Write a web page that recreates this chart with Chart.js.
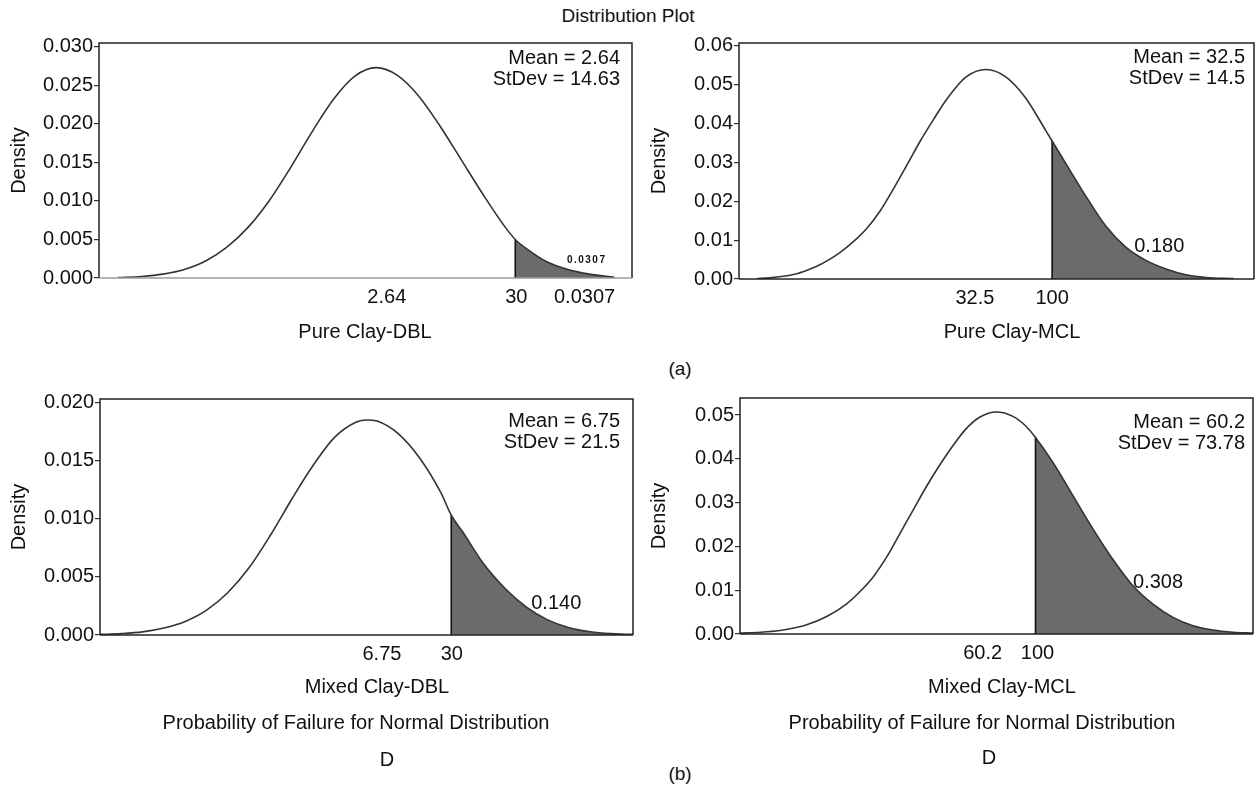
<!DOCTYPE html>
<html><head><meta charset="utf-8">
<script src="https://cdn.jsdelivr.net/npm/chart.js@4.4.0/dist/chart.umd.min.js"></script>
<style>
html,body{margin:0;padding:0;background:#fff;}
#wrap{position:relative;width:1256px;height:788px;overflow:hidden;font-family:"Liberation Sans",Arial,sans-serif;color:#111;}
canvas{position:absolute;}
.lbl{position:absolute;transform:translate(-50%,-50%);white-space:nowrap;line-height:1;}
</style></head>
<body><div id="wrap">
<div class="lbl" style="left:628px;top:15px;font-size:19px">Distribution Plot</div>
<div class="lbl" style="left:680px;top:368px;font-size:19px">(a)</div>
<div class="lbl" style="left:680px;top:773px;font-size:19px">(b)</div>
</div>
<script>
// ---------- data (x in relative plot units 0-100) ----------
const pureDblX = [3.6,8,12,16,20,24,28,32,36,40,44,48,52,56,60,64,68,72,76,78.1,80,84,88,92,96.7];
const pureDblY = [0.00005,0.0002,0.0005,0.0011,0.0022,0.0040,0.0066,0.0101,0.0144,0.0190,0.0232,0.0262,0.0273,0.0263,0.0236,0.0197,0.0153,0.0109,0.0068,0.0050,0.0039,0.0021,0.0011,0.0005,0.0001];

const pureMclX = [3.5,6,8.6,11,13.1,15,17,19.6,22.2,24.8,27.4,30,32.6,35.2,37.8,40.2,44.1,48,51.8,55.7,59.6,60.8,63.5,67.4,71.3,75.1,79,82.9,86.8,90.7,96];
const pureMclY = [0.0001,0.0003,0.0007,0.0013,0.0022,0.0032,0.0046,0.0068,0.0096,0.0130,0.0175,0.0232,0.0293,0.0355,0.0411,0.0460,0.0520,0.0539,0.0520,0.0465,0.0381,0.0355,0.0296,0.0212,0.0135,0.0082,0.0048,0.0026,0.0011,0.0004,0.0001];

const mixedDblX = [0,4,8,12,16,20,24,28,32,36,40,44,48,50.1,52,56,60,64,65.9,68,72,76,80,84,88,92,96,100];
const mixedDblY = [0.00005,0.00012,0.00027,0.0006,0.00117,0.00214,0.00366,0.0058,0.0086,0.0117,0.0146,0.0170,0.0183,0.0185,0.0184,0.0173,0.0152,0.0122,0.0103,0.0089,0.0061,0.0040,0.0024,0.0013,0.00063,0.00028,0.00012,0.00005];

const mixedMclX = [0,4,7.8,11,13,16.9,20.8,23.4,26,28.6,31.2,33.8,36.4,39,41.5,44.1,46.7,50,53.2,55.8,57.6,61,64.9,68.8,72.7,76.6,80.5,84.4,88.3,92.2,96.1,100];
const mixedMclY = [0.0002,0.0004,0.0008,0.0015,0.0021,0.0040,0.0069,0.0097,0.0131,0.0176,0.0230,0.0284,0.0338,0.0387,0.0430,0.0469,0.0495,0.0507,0.0497,0.0474,0.0449,0.0392,0.0316,0.0240,0.0170,0.0110,0.0068,0.0038,0.0019,0.0009,0.0004,0.0002];

const thresholds = [78.1, 60.8, 65.9, 57.6];

const yTicksPureDbl = [0,0.005,0.010,0.015,0.020,0.025,0.030];
const yLabelsPureDbl = ['0.000','0.005','0.010','0.015','0.020','0.025','0.030'];
const yTicksPureMcl = [0,0.01,0.02,0.03,0.04,0.05,0.06];
const yLabelsPureMcl = ['0.00','0.01','0.02','0.03','0.04','0.05','0.06'];
const yTicksMixedDbl = [0,0.005,0.010,0.015,0.020];
const yLabelsMixedDbl = ['0.000','0.005','0.010','0.015','0.020'];
const yTicksMixedMcl = [0,0.01,0.02,0.03,0.04,0.05];
const yLabelsMixedMcl = ['0.00','0.01','0.02','0.03','0.04','0.05'];

const xTickPosPureDbl = [54.0,78.3,91.1];   const xLabelsPureDbl = ['2.64','30','0.0307'];
const xTickPosPureMcl = [45.8,60.8];        const xLabelsPureMcl = ['32.5','100'];
const xTickPosMixedDbl = [52.9,66.0];       const xLabelsMixedDbl = ['6.75','30'];
const xTickPosMixedMcl = [47.3,58.0];       const xLabelsMixedMcl = ['60.2','100'];

const yMax = [0.0305, 0.0607, 0.0203, 0.0539];

const statTexts = [['Mean = 2.64','StDev = 14.63'],['Mean = 32.5','StDev = 14.5'],['Mean = 6.75','StDev = 21.5'],['Mean = 60.2','StDev = 73.78']];
const areaLabels = ['0.0307','0.180','0.140','0.308'];
const areaLabelAt = [[91.5,0.0023],[81.6,0.0084],[85.6,0.00267],[81.5,0.01175]];
const xTitles = ['Pure Clay-DBL','Pure Clay-MCL','Mixed Clay-DBL','Mixed Clay-MCL'];
const footTexts = ['Probability of Failure for Normal Distribution','D'];

// ---------- layout (page pixels) ----------
const FONT = "'Liberation Sans', Arial, sans-serif";
const layout = [
  {canvas:[0,30,640,320],   area:[99,41,632,278],   xTitle:[365,332],  statRight:620,  statY:[58,79],   foot:null, bottomColor:'#9a9a9a'},
  {canvas:[640,30,616,320], area:[739,41,1254,279], xTitle:[1012,332], statRight:1245, statY:[57,78],   foot:null, bottomColor:'#222'},
  {canvas:[0,380,640,408],  area:[100,399,633,635], xTitle:[377,687],  statRight:620,  statY:[421,442], foot:[[356,723],[387,760]], bottomColor:'#222'},
  {canvas:[640,380,616,408],area:[740,398,1253,634],xTitle:[1002,687], statRight:1245, statY:[422,443], foot:[[982,723],[989,758]], bottomColor:'#222'}
];

const curvesX = [pureDblX, pureMclX, mixedDblX, mixedMclX];
const curvesY = [pureDblY, pureMclY, mixedDblY, mixedMclY];
const yTicks = [yTicksPureDbl, yTicksPureMcl, yTicksMixedDbl, yTicksMixedMcl];
const yLabels = [yLabelsPureDbl, yLabelsPureMcl, yLabelsMixedDbl, yLabelsMixedMcl];
const xTickPos = [xTickPosPureDbl, xTickPosPureMcl, xTickPosMixedDbl, xTickPosMixedMcl];
const xLabels = [xLabelsPureDbl, xLabelsPureMcl, xLabelsMixedDbl, xLabelsMixedMcl];

const wrap = document.getElementById('wrap');

function panelPlugin(i){
  const L = layout[i];
  const cx = L.canvas[0], cy = L.canvas[1];
  return {
    id:'panel'+i,
    afterDraw(chart){
      const ctx = chart.ctx, a = chart.chartArea;
      ctx.save();
      ctx.lineWidth = 1.5;
      ctx.strokeStyle = '#222';
      ctx.beginPath();
      ctx.moveTo(a.left, a.bottom); ctx.lineTo(a.left, a.top); ctx.lineTo(a.right, a.top); ctx.lineTo(a.right, a.bottom);
      ctx.stroke();
      ctx.strokeStyle = L.bottomColor;
      ctx.beginPath(); ctx.moveTo(a.left, a.bottom); ctx.lineTo(a.right, a.bottom); ctx.stroke();

      ctx.fillStyle = '#111';
      ctx.font = '20px ' + FONT;
      ctx.textBaseline = 'middle';
      ctx.textAlign = 'right';
      ctx.fillText(statTexts[i][0], L.statRight - cx, L.statY[0] - cy);
      ctx.fillText(statTexts[i][1], L.statRight - cx, L.statY[1] - cy);

      const xs = chart.scales.x, ys = chart.scales.y;
      const px = xs.getPixelForValue(areaLabelAt[i][0]);
      const py = ys.getPixelForValue(areaLabelAt[i][1]);
      ctx.textAlign = 'center';
      if (i === 0){
        ctx.font = 'bold 10px ' + FONT;
        try { ctx.letterSpacing = '1.5px'; } catch(e){}
        ctx.fillText(areaLabels[i], px, py);
        try { ctx.letterSpacing = '0px'; } catch(e){}
      } else {
        ctx.font = '20px ' + FONT;
        ctx.fillText(areaLabels[i], px, py);
      }

      ctx.font = '20px ' + FONT;
      ctx.fillText(xTitles[i], L.xTitle[0] - cx, L.xTitle[1] - cy);
      if (L.foot){
        ctx.fillText(footTexts[0], L.foot[0][0] - cx, L.foot[0][1] - cy);
        ctx.fillText(footTexts[1], L.foot[1][0] - cx, L.foot[1][1] - cy);
      }
      ctx.restore();
    }
  };
}

function makeChart(i){
  const L = layout[i];
  const [cx, cy, cw, ch] = L.canvas;
  const [l, t, r, b] = L.area;
  const cv = document.createElement('canvas');
  cv.width = cw; cv.height = ch;
  cv.style.left = cx + 'px'; cv.style.top = cy + 'px';
  cv.style.width = cw + 'px'; cv.style.height = ch + 'px';
  wrap.appendChild(cv);
  const thr = thresholds[i];
  const main = curvesX[i].map((x, k) => ({x: x, y: curvesY[i][k]}));
  const shade = main.filter(p => p.x >= thr);
  const vline = [{x: thr, y: 0}, {x: thr, y: shade[0].y}];
  const tickFont = {family: FONT, size: 20};
  new Chart(cv, {
    type: 'line',
    data: {datasets: [
      {data: main, borderColor: '#333', borderWidth: 1.6, pointRadius: 0, cubicInterpolationMode: 'monotone', fill: false, order: 1},
      {data: vline, borderColor: '#111', borderWidth: 1.6, pointRadius: 0, tension: 0, fill: false, order: 2},
      {data: shade, borderColor: 'rgba(0,0,0,0)', borderWidth: 0, backgroundColor: '#6b6b6b', pointRadius: 0, cubicInterpolationMode: 'monotone', fill: 'origin', order: 3}
    ]},
    options: {
      responsive: false, animation: false, events: [],
      layout: {padding: {left: 0, top: t - cy, right: cx + cw - r, bottom: 0}},
      plugins: {legend: {display: false}, tooltip: {enabled: false}, title: {display: false}},
      scales: {
        x: {
          type: 'linear', min: 0, max: 100,
          afterFit(s){ s.height = cy + ch - b; },
          afterBuildTicks(s){ s.ticks = xTickPos[i].map(v => ({value: v})); },
          grid: {display: false, drawTicks: false},
          border: {display: false},
          ticks: {autoSkip: false, maxRotation: 0, minRotation: 0, padding: 7, font: tickFont, color: '#111',
                  callback: (v, k) => xLabels[i][k]}
        },
        y: {
          type: 'linear', min: 0, max: yMax[i],
          afterFit(s){ s.width = l - cx; },
          afterBuildTicks(s){ s.ticks = yTicks[i].map(v => ({value: v})); },
          grid: {drawOnChartArea: false, drawTicks: true, tickLength: 5, color: '#333', lineWidth: 1.2},
          border: {display: false},
          title: {display: true, text: 'Density', font: {family: FONT, size: 20}, color: '#111', padding: {top: 7, bottom: 0}},
          ticks: {padding: 1, font: tickFont, color: '#111', callback: (v, k) => yLabels[i][k]}
        }
      }
    },
    plugins: [panelPlugin(i)]
  });
}
for (let i = 0; i < 4; i++) makeChart(i);
</script>
</body></html>
